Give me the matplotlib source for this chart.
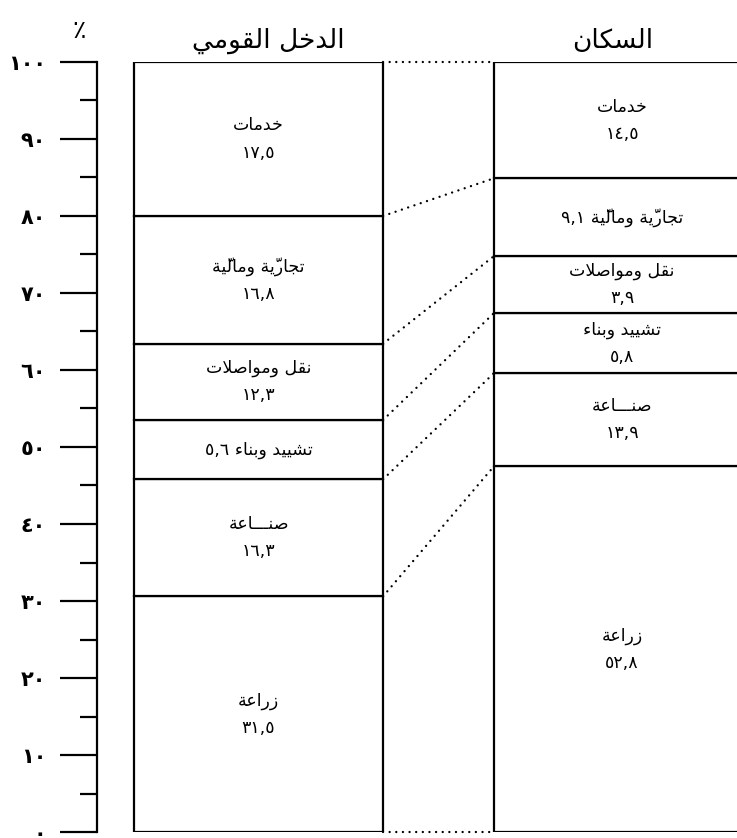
import matplotlib
matplotlib.use("Agg")
import matplotlib.pyplot as plt
from matplotlib.ticker import FixedLocator

# ---- data -------------------------------------------------------------
# sectors, bottom to top
sectors = ["زراعة", "صنـــاعة", "تشييد وبناء", "نقل ومواصلات", "تجاريّة وماليّة", "خدمات"]
income_values = ["٣١,٥", "١٦,٣", "٥,٦", "١٢,٣", "١٦,٨", "١٧,٥"]
population_values = ["٥٢,٨", "١٣,٩", "٥,٨", "٣,٩", "٩,١", "١٤,٥"]
# segment heights as drawn in the original figure (in % of the scale)
income_heights = [30.6, 15.2, 7.7, 9.9, 16.6, 20.0]
population_heights = [47.5, 12.1, 7.8, 7.4, 10.1, 15.1]
# labels that sit on one line (value after the name)
income_single = [False, False, True, False, False, False]
population_single = [False, False, False, False, True, False]

bar_titles = ["الدخل القومي", "السكان"]
y_ticks = list(range(0, 101, 10))
y_tick_labels = ["٠", "١٠", "٢٠", "٣٠", "٤٠", "٥٠", "٦٠", "٧٠", "٨٠", "٩٠", "١٠٠"]

# ---- minimal arabic shaping (matplotlib has no shaping / bidi) --------
BASE = {
    "ء": 0xFE80, "ا": 0xFE8D, "ب": 0xFE8F, "ة": 0xFE93, "ت": 0xFE95,
    "ج": 0xFE9D, "خ": 0xFEA5, "د": 0xFEA9, "ر": 0xFEAD, "ز": 0xFEAF,
    "س": 0xFEB1, "ش": 0xFEB5, "ص": 0xFEB9, "ع": 0xFEC9, "ق": 0xFED5,
    "ك": 0xFED9, "ل": 0xFEDD, "م": 0xFEE1, "ن": 0xFEE5, "و": 0xFEED,
    "ي": 0xFEF1,
}
RIGHT_ONLY = set("ادرزوة")
DIGITS = set("٠١٢٣٤٥٦٧٨٩0123456789,")


def jtype(c):
    if c == "ـ":
        return "D"
    if c in RIGHT_ONLY:
        return "R"
    if c in BASE and c != "ء":
        return "D"
    return "U"


def is_mark(c):
    return "\u064b" <= c <= "\u0652"


def shape_line(text):
    letters = [i for i, c in enumerate(text) if not is_mark(c)]
    clusters = []
    k = 0
    while k < len(letters):
        i = letters[k]
        c = text[i]
        prev = text[letters[k - 1]] if k > 0 else " "
        nxt = text[letters[k + 1]] if k + 1 < len(letters) else " "
        j_prev = jtype(prev) == "D" and jtype(c) in "DR"
        skip = 0
        if c == "ل" and nxt == "ا":
            g = "\uFEFC" if j_prev else "\uFEFB"
            skip = 1
        elif c in BASE and jtype(c) != "U":
            j_next = jtype(c) == "D" and jtype(nxt) in "DR"
            b = BASE[c]
            if j_prev and j_next:
                g = chr(b + 3)
            elif j_prev:
                g = chr(b + 1)
            elif j_next:
                g = chr(b + 2)
            else:
                g = chr(b)
        elif c in BASE:
            g = chr(BASE[c])
        else:
            g = c
        end = letters[k + 1 + skip] if k + 1 + skip < len(letters) else len(text)
        marks = "".join(m for m in text[i + 1:end] if is_mark(m))
        clusters.append((g, marks, c in DIGITS))
        k += 1 + skip
    # visual order: reverse runs, keep digit runs left to right
    runs = []
    for g, marks, dig in clusters:
        if runs and runs[-1][0] == dig:
            runs[-1][1].append(g + marks)
        else:
            runs.append([dig, [g + marks]])
    out = ""
    for dig, items in reversed(runs):
        out += "".join(items) if dig else "".join(reversed(items))
    return out


def ar(text):
    return "\n".join(shape_line(line) for line in text.split("\n"))


# ---- figure -----------------------------------------------------------
plt.rcParams["font.family"] = ["DejaVu Sans"]
W, H = 737, 838
fig = plt.figure(figsize=(W / 100, H / 100), dpi=100)
ax = fig.add_axes([97 / W, 6 / H, 640 / W, 770 / H])
ax.set_xlim(0, 640)
ax.set_ylim(0, 100)

# (bar centre, bar width, title centre)
bars = [
    (161.5, 249, 171, income_heights, income_values, income_single),
    (525, 256, 516, population_heights, population_values, population_single),
]
edges = []
for (xc, w, xt, heights, values, single), title in zip(bars, bar_titles):
    bottom = 0
    bounds = [0]
    for name, h, val, one in zip(sectors, heights, values, single):
        ax.bar(xc, h, width=w, bottom=bottom, color="white",
               edgecolor="black", linewidth=1.6, clip_on=True)
        label = f"{name} {val}" if one else f"{name}\n{val}"
        ax.text(xc, bottom + h / 2, ar(label), ha="center", va="center",
                multialignment="center", fontsize=12.5, linespacing=1.65)
        bottom += h
        bounds.append(bottom)
    edges.append((xc - w / 2, xc + w / 2, bounds))
    ax.text(xt, 102.7, ar(title), ha="center", va="center", fontsize=19,
            clip_on=False)

# dotted connectors between matching boundaries
left_edge_r = edges[0][1]
right_edge_l = edges[1][0]
for yl, yr in zip(edges[0][2], edges[1][2]):
    ax.plot([left_edge_r, right_edge_l], [yl, yr], color="black",
            linewidth=1.7, linestyle=(0, (0.01, 2.8)),
            dash_capstyle="round", clip_on=False)

for s in ["top", "right", "bottom"]:
    ax.spines[s].set_visible(False)
ax.spines["left"].set_linewidth(1.6)
ax.set_xticks([])
ax.set_yticks(y_ticks)
ax.set_yticklabels(y_tick_labels, fontsize=15, fontweight="bold")
ax.yaxis.set_minor_locator(FixedLocator([t + 5 for t in y_ticks[:-1]]))
ax.tick_params(axis="y", which="major", length=26.6, width=1.6, pad=10)
ax.tick_params(axis="y", which="minor", length=12.5, width=1.6)

fig.text(79 / W, 1 - 31 / H, "٪", ha="center", va="center", fontsize=18)

fig.savefig("out.png", dpi=100)
